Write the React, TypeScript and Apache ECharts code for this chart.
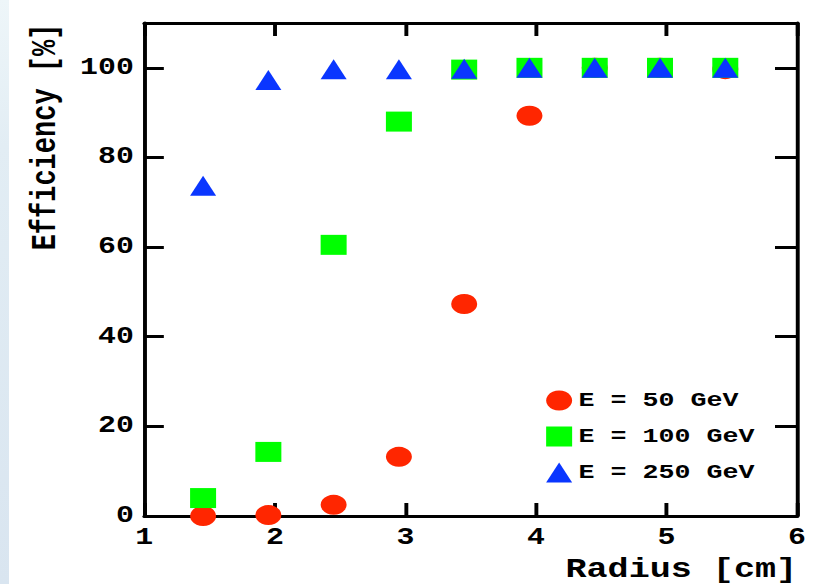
import React, { useEffect, useRef } from "react";
import * as echarts from "echarts";

const radius = [1.45, 1.95, 2.45, 2.95, 3.45, 3.95, 4.45, 4.95, 5.45];
const eff50 = [0, 0.2, 2.5, 13.2, 47.3, 89.3, 100, 100, 99.7];
const eff100 = [4.0, 14.3, 60.5, 88, 99.6, 100, 100, 100, 100];
const eff250 = [73.7, 97.3, 99.7, 99.7, 99.8, 100, 100, 100, 100];
const seriesNames = ["E = 50 GeV", "E = 100 GeV", "E = 250 GeV"];
const xTitle = "Radius [cm]";
const yTitle = "Efficiency [%]";

const FULL_W = 827;
const H = 584;
const W = 636;
const SX = FULL_W / W;
const FONT = "'Liberation Mono', 'DejaVu Sans Mono', monospace";

export default function App() {
  const ref = useRef<HTMLDivElement>(null);
  useEffect(() => {
    if (!ref.current) return;
    const chart = echarts.init(ref.current, null, { renderer: "svg" });
    const pts = (ys: number[]) => radius.map((x, i) => [x, ys[i]]);
    const baseAxis = {
      axisLine: { show: true, onZero: false, lineStyle: { color: "#000", width: 3 } },
      splitLine: { show: false },
    };
    chart.setOption({
      animation: false,
      backgroundColor: "transparent",
      grid: { left: 111, right: 23, top: 23, bottom: 68, containLabel: false },
      xAxis: [
        {
          ...baseAxis,
          type: "value",
          min: 1,
          max: 6,
          interval: 1,
          position: "bottom",
          axisTick: { show: true, inside: true, length: 13, lineStyle: { color: "#000", width: 3 } },
          axisLabel: {
            show: true,
            margin: 10,
            color: "#000",
            fontFamily: FONT,
            fontWeight: "bold",
            fontSize: 23,
          },
        },
        {
          ...baseAxis,
          type: "value",
          min: 1,
          max: 6,
          interval: 1,
          position: "top",
          axisTick: { show: true, inside: true, length: 13, lineStyle: { color: "#000", width: 3 } },
          axisLabel: { show: false },
        },
      ],
      yAxis: [
        {
          ...baseAxis,
          type: "value",
          min: 0,
          max: 110,
          interval: 20,
          position: "left",
          axisTick: { show: true, inside: true, length: 15, lineStyle: { color: "#000", width: 3 } },
          axisLabel: {
            show: true,
            margin: 8,
            color: "#000",
            fontFamily: FONT,
            fontWeight: "bold",
            fontSize: 23,
            showMaxLabel: false,
            formatter: (v: number) => (v % 20 === 0 ? String(v) : ""),
          },
        },
        {
          ...baseAxis,
          type: "value",
          min: 0,
          max: 110,
          interval: 20,
          position: "right",
          axisTick: { show: true, inside: true, length: 17, lineStyle: { color: "#000", width: 3 } },
          axisLabel: { show: false },
        },
      ],
      legend: {
        show: true,
        orient: "vertical",
        left: 415,
        top: 385,
        itemWidth: 20,
        itemHeight: 20,
        itemGap: 15,
        data: seriesNames,
        textStyle: { color: "#000", fontFamily: FONT, fontWeight: "bold", fontSize: 20.5 },
      },
      series: [
        {
          name: seriesNames[0],
          type: "scatter",
          symbol: "circle",
          symbolSize: 20,
          itemStyle: { color: "#ff2600", opacity: 1 },
          data: pts(eff50),
          xAxisIndex: 0,
          yAxisIndex: 0,
          clip: false,
        },
        {
          name: seriesNames[1],
          type: "scatter",
          symbol: "rect",
          symbolSize: 20,
          itemStyle: { color: "#00ff00", opacity: 1 },
          data: pts(eff100),
          xAxisIndex: 0,
          yAxisIndex: 0,
          clip: false,
        },
        {
          name: seriesNames[2],
          type: "scatter",
          symbol: "triangle",
          symbolSize: 20,
          itemStyle: { color: "#0a36ff", opacity: 1 },
          data: pts(eff250),
          xAxisIndex: 0,
          yAxisIndex: 0,
          clip: false,
        },
      ],
      graphic: [
        {
          type: "text",
          x: 613,
          y: 570,
          style: {
            text: xTitle,
            fill: "#000",
            font: `bold 27px ${FONT}`,
            align: "right",
            verticalAlign: "middle",
          },
        },
        {
          type: "text",
          x: 35,
          y: 137,
          rotation: Math.PI / 2,
          style: {
            text: yTitle,
            fill: "#000",
            font: `bold 27px ${FONT}`,
            align: "center",
            verticalAlign: "middle",
          },
        },
      ],
    });
    return () => chart.dispose();
  }, []);

  return (
    <div
      style={{
        position: "fixed",
        left: 0,
        top: 0,
        width: FULL_W,
        height: H,
        overflow: "hidden",
        background: "#fff",
      }}
    >
      <div
        ref={ref}
        style={{
          position: "absolute",
          left: 0,
          top: 0,
          width: W,
          height: H,
          transform: `scaleX(${SX})`,
          transformOrigin: "0 0",
        }}
      />
      <div
        style={{
          position: "absolute",
          left: 0,
          top: 0,
          width: 9,
          height: H,
          background: "linear-gradient(to bottom, #eef6f9 0%, #e2edf4 25%, #d9e5f0 100%)",
        }}
      />
    </div>
  );
}
